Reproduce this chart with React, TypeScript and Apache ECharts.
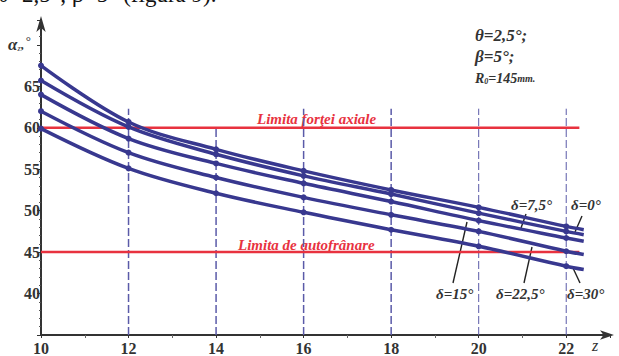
import React, { useEffect, useRef } from 'react';
import * as echarts from 'echarts';

// z positions (last point = end of drawn curve, no marker)
const zValues = [10, 12, 14, 16, 18, 20, 22, 22.4];
const markedZ = [10, 12, 14, 16, 18, 20, 22];
const deltaNames = ['δ=0°', 'δ=7,5°', 'δ=15°', 'δ=22,5°', 'δ=30°'];
const alphaDelta0 = [67.5, 60.7, 57.4, 54.8, 52.5, 50.4, 48.1, 47.7];
const alphaDelta75 = [65.7, 60.1, 56.8, 54.2, 52.0, 49.7, 47.5, 47.1];
const alphaDelta15 = [64.0, 58.7, 55.7, 53.3, 51.1, 48.8, 46.7, 46.3];
const alphaDelta225 = [62.0, 57.0, 54.0, 51.6, 49.5, 47.5, 45.1, 44.7];
const alphaDelta30 = [59.9, 55.1, 52.1, 49.8, 47.7, 45.7, 43.3, 42.9];
const curves = [alphaDelta0, alphaDelta75, alphaDelta15, alphaDelta225, alphaDelta30];

const guideZ = [12, 14, 16, 18, 20, 22];
const guideTop = [62.3, 60, 62.3, 62.3, 62.3, 62.3];
const axialLimit = 60;
const selfLockLimit = 45;
const limitStart = 10;
const limitEnd = 22.3;
const yTickLabels = [40, 45, 50, 55, 60, 65];
const xTickLabels = [10, 12, 14, 16, 18, 20, 22];

const SERIF = '"Liberation Serif", "Times New Roman", serif';
const BLUE = '#38388f';
const RED = '#e8323f';
const DARK = '#333333';

export default function App() {
  const ref = useRef<HTMLDivElement>(null);
  useEffect(() => {
    if (!ref.current) return;
    const chart = echarts.init(ref.current, undefined, { renderer: 'svg' });

    const guideSeries = guideZ.map((z, i) => ({
      type: 'line',
      data: [[z, 35], [z, guideTop[i]]],
      symbol: 'none',
      silent: true,
      z: 1,
      lineStyle: { color: '#5a5aa8', width: i >= 4 ? 1 : 1.5, type: [8, 3] },
    }));

    const limitSeries = [axialLimit, selfLockLimit].map((v) => ({
      type: 'line',
      data: [[limitStart, v], [limitEnd, v]],
      symbol: 'none',
      silent: true,
      z: 2,
      lineStyle: { color: RED, width: 2.5 },
    }));

    const curveSeries = curves.map((vals, k) => ({
      type: 'line',
      name: deltaNames[k],
      smooth: 0.35,
      z: 3,
      symbol: 'circle',
      symbolSize: 6,
      itemStyle: { color: BLUE },
      lineStyle: { color: BLUE, width: 3.5 },
      data: zValues.map((z, i) =>
        markedZ.includes(z) ? [z, vals[i]] : { value: [z, vals[i]], symbol: 'none' }
      ),
    }));

    const italicBold = (text: string, x: number, y: number, size: number, color = DARK) => ({
      type: 'text',
      x,
      y,
      style: {
        text,
        font: `italic bold ${size}px ${SERIF}`,
        fill: color,
      },
    });

    const leader = (x1: number, y1: number, x2: number, y2: number) => ({
      type: 'line',
      shape: { x1, y1, x2, y2 },
      style: { stroke: '#222', lineWidth: 1.4 },
    });

    chart.setOption({
      animation: false,
      grid: { left: 41, right: 9, top: 20, bottom: 18 },
      xAxis: {
        type: 'value',
        min: 10,
        max: 23,
        interval: 2,
        axisLine: {
          onZero: false,
          symbol: ['none', 'arrow'],
          symbolSize: [7, 14],
          symbolOffset: [0, 4],
          lineStyle: { color: DARK, width: 2 },
        },
        axisTick: { show: true, length: 3, lineStyle: { color: DARK } },
        minorTick: { show: true, splitNumber: 2, length: 3, lineStyle: { color: '#666' } },
        splitLine: { show: false },
        axisLabel: {
          showMaxLabel: false,
          margin: 5,
          fontFamily: SERIF,
          fontWeight: 'bold',
          fontSize: 16,
          color: DARK,
          formatter: (v: number) => (xTickLabels.includes(v) ? String(v) : ''),
        },
      },
      yAxis: {
        type: 'value',
        min: 35,
        max: 73,
        interval: 5,
        axisLine: {
          show: true,
          onZero: false,
          symbol: ['none', 'arrow'],
          symbolSize: [7, 16],
          symbolOffset: [0, 4],
          lineStyle: { color: DARK, width: 2 },
        },
        axisTick: { show: true, length: 4, inside: false, lineStyle: { color: DARK } },
        minorTick: { show: true, splitNumber: 5, length: 2, lineStyle: { color: '#555' } },
        splitLine: { show: false },
        axisLabel: {
          margin: 1,
          fontFamily: SERIF,
          fontWeight: 'bold',
          fontSize: 16,
          color: DARK,
          formatter: (v: number) => (yTickLabels.includes(v) ? String(v) : ''),
        },
      },
      series: [...guideSeries, ...limitSeries, ...curveSeries],
      graphic: [
        {
          type: 'text',
          x: -2,
          y: -17,
          style: {
            text: 'θ=2,5°; β=5° (figura 9).',
            font: `23px ${SERIF}`,
            fill: '#111',
          },
        },
        {
          type: 'text',
          x: 8,
          y: 34,
          style: {
            text: '{a|α}{s|z}{c|,}{d|°}',
            rich: {
              a: { font: `italic bold 17px ${SERIF}`, fill: DARK },
              s: { font: `italic 8px ${SERIF}`, fill: DARK, padding: [8, 0, 0, 0] },
              c: { font: `bold 13px ${SERIF}`, fill: DARK },
              d: { font: `13px ${SERIF}`, fill: DARK, padding: [0, 0, 8, 2] },
            },
          },
        },
        italicBold('θ=2,5°;', 475, 27, 17),
        italicBold('β=5°;', 475, 48, 17),
        {
          type: 'text',
          x: 475,
          y: 71,
          style: {
            text: '{r|R}{s|0}{r|=145}{m|mm.}',
            rich: {
              r: { font: `italic bold 14px ${SERIF}`, fill: DARK },
              s: { font: `italic bold 8px ${SERIF}`, fill: DARK, padding: [6, 0, 0, 0] },
              m: { font: `italic bold 10px ${SERIF}`, fill: DARK },
            },
          },
        },
        italicBold('Limita forţei axiale', 257, 111, 15, RED),
        italicBold('Limita de autofrânare', 238, 237, 15, RED),
        italicBold('δ=7,5°', 511, 197, 15),
        italicBold('δ=0°', 571, 197, 15),
        italicBold('δ=15°', 436, 286, 15),
        italicBold('δ=22,5°', 496, 286, 15),
        italicBold('δ=30°', 567, 286, 15),
        leader(526, 214, 521, 228),
        leader(582, 216, 575, 232),
        leader(453, 283, 467, 222),
        leader(524, 283, 532, 247),
        leader(580, 283, 573, 268),
        {
          type: 'text',
          x: 592,
          y: 337,
          style: { text: 'z', font: `italic 16px ${SERIF}`, fill: DARK },
        },
      ],
    });
    return () => chart.dispose();
  }, []);
  return (
    <div
      ref={ref}
      style={{ position: 'absolute', left: 0, top: 0, width: 619, height: 356, background: '#fff' }}
    />
  );
}
